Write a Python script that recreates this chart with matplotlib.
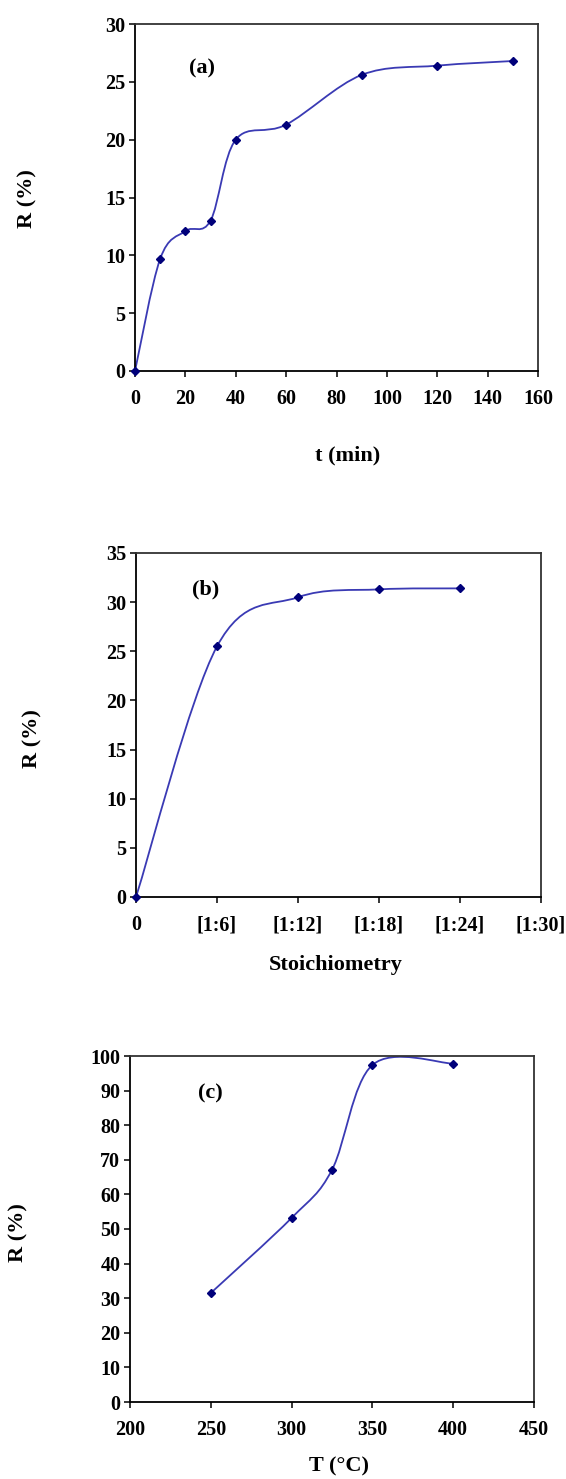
import matplotlib.pyplot as plt
from matplotlib.path import Path
from matplotlib.patches import PathPatch

# (a) R vs time
t_min = [0, 10, 20, 30, 40, 60, 90, 120, 150]
R_a = [0, 9.7, 12.1, 13.0, 20.0, 21.3, 25.6, 26.4, 26.8]

# (b) R vs stoichiometry
stoich = [0, 6, 12, 18, 24]
R_b = [0, 25.5, 30.5, 31.3, 31.4]
stoich_ticks = [0, 6, 12, 18, 24, 30]
stoich_labels = ["0", "[1:6]", "[1:12]", "[1:18]", "[1:24]", "[1:30]"]

# (c) R vs temperature
T_c = [250, 300, 325, 350, 400]
R_c = [31.5, 53.2, 67.1, 97.4, 97.8]

plt.rcParams['font.family'] = 'Liberation Serif'
plt.rcParams['font.weight'] = 'bold'

line_col = "#3a3ab4"
mark_col = "#00007a"
tick_fs = 14.5
lab_fs = 16


def smooth_line(ax, x, y):
    # excel-like smoothed line (catmull-rom as cubic bezier)
    pts = list(zip(x, y))
    n = len(pts)
    verts = [pts[0]]
    codes = [Path.MOVETO]
    for i in range(n - 1):
        p0 = pts[max(i - 1, 0)]
        p1 = pts[i]
        p2 = pts[i + 1]
        p3 = pts[min(i + 2, n - 1)]
        c1 = (p1[0] + (p2[0] - p0[0]) / 6, p1[1] + (p2[1] - p0[1]) / 6)
        c2 = (p2[0] - (p3[0] - p1[0]) / 6, p2[1] - (p3[1] - p1[1]) / 6)
        verts += [c1, c2, p2]
        codes += [Path.CURVE4] * 3
    patch = PathPatch(Path(verts, codes), fill=False, edgecolor=line_col,
                      linewidth=1.3, transform=ax.transData)
    ax.add_patch(patch)
    ax.plot(x, y, linestyle="none", marker="D", markersize=4.5,
            color=mark_col, clip_on=False, zorder=5)


def style(ax):
    for s in ax.spines.values():
        s.set_linewidth(1.3)
        s.set_color("#333333")
    ax.spines['left'].set_color("black")
    ax.spines['bottom'].set_color("black")
    ax.tick_params(axis='both', direction='out', length=4, width=1.1,
                   labelsize=tick_fs)
    ax.tick_params(axis='x', pad=9)
    ax.tick_params(axis='y', pad=3)
    for lab in ax.get_xticklabels() + ax.get_yticklabels():
        lab.set_fontweight('bold')


W, H = 566, 1479
fig = plt.figure(figsize=(W / 100, H / 100), dpi=100)


def axes_px(l, t, r, b):
    return fig.add_axes([l / W, 1 - b / H, (r - l) / W, (b - t) / H])


# panel (a)
ax1 = axes_px(135, 24, 538, 371)
smooth_line(ax1, t_min, R_a)
ax1.set_xlim(0, 160)
ax1.set_ylim(0, 30)
ax1.set_xticks(range(0, 161, 20))
ax1.set_yticks(range(0, 31, 5))
style(ax1)
ax1.text(0.167, 0.872, "(a)", transform=ax1.transAxes, ha="center",
         va="center", fontsize=16, fontweight="bold")
fig.text(27 / W, 1 - 199 / H, "R (%)", rotation=90, ha="center",
         va="center", fontsize=lab_fs, fontweight="bold")
fig.text(348 / W, 1 - 455 / H, "t (min)", ha="center", va="center",
         fontsize=lab_fs, fontweight="bold")

# panel (b)
ax2 = axes_px(136, 553, 541, 897)
smooth_line(ax2, stoich, R_b)
ax2.set_xlim(0, 30)
ax2.set_ylim(0, 35)
ax2.set_xticks(stoich_ticks)
ax2.set_xticklabels(stoich_labels)
ax2.set_yticks(range(0, 36, 5))
style(ax2)
ax2.text(0.171, 0.895, "(b)", transform=ax2.transAxes, ha="center",
         va="center", fontsize=16, fontweight="bold")
fig.text(32 / W, 1 - 739 / H, "R (%)", rotation=90, ha="center",
         va="center", fontsize=lab_fs, fontweight="bold")
fig.text(336 / W, 1 - 965 / H, "Stoichiometry", ha="center", va="center",
         fontsize=lab_fs, fontweight="bold")

# panel (c)
ax3 = axes_px(130, 1056, 534, 1402)
smooth_line(ax3, T_c, R_c)
ax3.set_xlim(200, 450)
ax3.set_ylim(0, 100)
ax3.set_xticks(range(200, 451, 50))
ax3.set_yticks(range(0, 101, 10))
style(ax3)
ax3.text(0.2, 0.891, "(c)", transform=ax3.transAxes, ha="center",
         va="center", fontsize=16, fontweight="bold")
fig.text(18 / W, 1 - 1233 / H, "R (%)", rotation=90, ha="center",
         va="center", fontsize=lab_fs, fontweight="bold")
fig.text(339 / W, 1 - 1466 / H, "T (\u00b0C)", ha="center", va="center",
         fontsize=lab_fs, fontweight="bold")

fig.savefig("out.png", dpi=100)
